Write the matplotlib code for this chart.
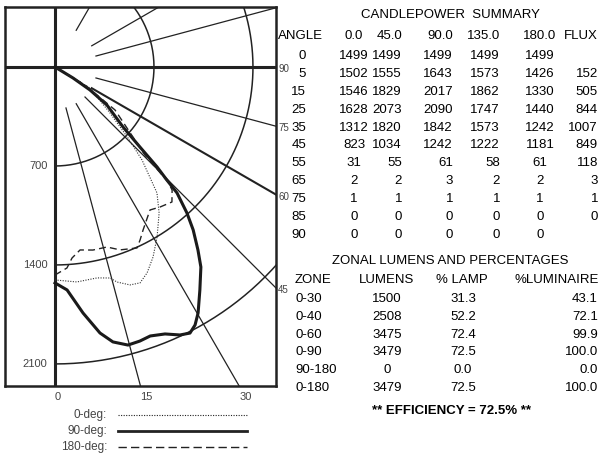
import numpy as np
import matplotlib
matplotlib.use('Agg')
import matplotlib.pyplot as plt

plt.rcParams['font.family'] = ['Liberation Sans', 'DejaVu Sans']

# candlepower summary table
cp_angles = [0, 5, 15, 25, 35, 45, 55, 65, 75, 85, 90]
cp_planes = ['0.0', '45.0', '90.0', '135.0', '180.0']
cp_0 = [1499, 1502, 1546, 1628, 1312, 823, 31, 2, 1, 0, 0]
cp_45 = [1499, 1555, 1829, 2073, 1820, 1034, 55, 2, 1, 0, 0]
cp_90 = [1499, 1643, 2017, 2090, 1842, 1242, 61, 3, 1, 0, 0]
cp_135 = [1499, 1573, 1862, 1747, 1573, 1222, 58, 2, 1, 0, 0]
cp_180 = [1499, 1426, 1330, 1440, 1242, 1181, 61, 2, 1, 0, 0]
flux = [None, 152, 505, 844, 1007, 849, 118, 3, 1, 0, None]

# zonal lumens table
zones = ['0-30', '0-40', '0-60', '0-90', '90-180', '0-180']
zone_lumens = [1500, 2508, 3475, 3479, 0, 3479]
zone_lamp = [31.3, 52.2, 72.4, 72.5, 0.0, 72.5]
zone_lum = [43.1, 72.1, 99.9, 100.0, 0.0, 100.0]
efficiency = 72.5

# curves (degrees from nadir, candela)
ang_0deg = [0, 5.8, 11.3, 14.6, 16.1, 19.0, 21.5, 24.1, 27.3, 31.0, 35.5, 39.0,
            43.1, 45.8, 50.1, 59.0, 59.5, 62]
cd_0deg = [1506, 1528, 1521, 1542, 1583, 1630, 1641, 1595, 1512, 1402, 1268, 1146,
           901, 720, 507, 289, 139, 0]
ang_90deg = [0, 3.1, 6.5, 9.6, 11.9, 14.7, 17.2, 19.5, 22.4, 25.0, 26.9, 28.5, 30.2,
             33.0, 36.1, 38.0, 40.3, 42.1, 44.1, 44.7, 45.6, 46.7, 48.6, 53.8, 56.7,
             58.6, 60]
cd_90deg = [1527, 1579, 1751, 1908, 1987, 2033, 2029, 2018, 2042, 2091, 2110, 2076, 2012,
            1881, 1751, 1642, 1511, 1392, 1240, 1125, 1010, 826, 641, 455, 296,
            149, 0]
ang_180deg = [0, 3.4, 5.1, 7.8, 11.7, 16.1, 19.6, 24.4, 26.2, 28.4, 33.6, 36.9, 40.9,
              43.6, 44.5, 45.6, 54.4, 59, 62]
cd_180deg = [1471, 1424, 1356, 1306, 1322, 1325, 1373, 1405, 1363, 1310, 1214, 1238, 1263,
             1201, 1140, 890, 522, 247, 0]

rings = [700, 1400, 2100]
spokes = [15, 30, 45, 60, 75, 105, 120, 150]
bottom_lbls = [0, 15, 30]
side_lbls = [90, 75, 60, 45]

W, H = 602, 453
s = 0.1414              # pixels per candela
ox, oy = 55, 67         # origin of the polar grid, pixels
bl, br, bt, bb = 5, 276, 7, 386

fig = plt.figure(figsize=(W / 100, H / 100), dpi=100)
ax = fig.add_axes([bl / W, 1 - bb / H, (br - bl) / W, (bb - bt) / H])
xr = (br - ox) / s
yb = (bb - oy) / s
ax.set_xlim((bl - ox) / s, xr)
ax.set_ylim(-yb, (oy - bt) / s)
ax.set_xticks([])
ax.set_yticks([])
for sp in ax.spines.values():
    sp.set_linewidth(1.8)
    sp.set_color('#222222')


def polar(ang, cd):
    t = np.radians(ang)
    cd = np.asarray(cd, dtype=float)
    return cd * np.sin(t), -cd * np.cos(t)


t = np.linspace(0, 180, 300)
for r in rings:
    ax.plot(*polar(t, np.full_like(t, r)), color='#222222', lw=1.1)
for a in spokes:
    ax.plot(*polar([a, a], [300, 4000]), color='#222222', lw=1.5 if a == 60 else 0.9)
ax.axvline(0, color='#222222', lw=2.2)
ax.axhline(0, color='#222222', lw=2.2)

ax.plot(*polar(ang_0deg, cd_0deg), color='#333333', lw=0.8, ls=(0, (1, 1.3)))
ax.plot(*polar(ang_90deg, cd_90deg), color='#1a1a1a', lw=2.2)
ax.plot(*polar(ang_180deg, cd_180deg), color='#222222', lw=1.0, ls=(0, (5, 3)))

lab = dict(textcoords='offset points', fontsize=8, color='#444444', annotation_clip=False)
for r in rings:
    ax.annotate(str(r), (0, -r), xytext=(-5.5, 0), ha='right', va='center', **lab)
for a in bottom_lbls:
    ax.annotate(str(a), (yb * np.tan(np.radians(a)), -yb), xytext=(0, -8),
                ha='left', va='center', **lab)
for a in side_lbls:
    yy = -xr / np.tan(np.radians(a)) if a != 90 else 0
    ax.annotate(str(a), (xr, yy), xytext=(1.5, -1.5), ha='left', va='center',
                textcoords='offset points', fontsize=7, color='#444444',
                annotation_clip=False)

# text overlay in pixel units
tx = fig.add_axes([0, 0, 1, 1])
tx.set_xlim(0, W)
tx.set_ylim(H, 0)
tx.axis('off')

fs = 9.5
tx.text(450, 15, 'CANDLEPOWER  SUMMARY', ha='center', va='center', fontsize=fs)
tx.text(278, 36, 'ANGLE', ha='left', va='center', fontsize=fs)
cols = [(354, 'center'), (402, 'right'), (453, 'right'), (500, 'right'), (540, 'center')]
for (cx, al), name in zip(cols, cp_planes):
    tx.text(cx, 36, name, ha=al, va='center', fontsize=fs)
tx.text(598, 36, 'FLUX', ha='right', va='center', fontsize=fs)
for i, a in enumerate(cp_angles):
    y = 56 + i * 17.9
    tx.text(306, y, str(a), ha='right', va='center', fontsize=fs)
    for (cx, al), vals in zip(cols, [cp_0, cp_45, cp_90, cp_135, cp_180]):
        tx.text(cx, y, str(vals[i]), ha=al, va='center', fontsize=fs)
    if flux[i] is not None:
        tx.text(598, y, str(flux[i]), ha='right', va='center', fontsize=fs)

tx.text(450, 261, 'ZONAL LUMENS AND PERCENTAGES', ha='center', va='center', fontsize=fs)
tx.text(295, 280, 'ZONE', ha='left', va='center', fontsize=fs)
tx.text(387, 280, 'LUMENS', ha='center', va='center', fontsize=fs)
tx.text(462, 280, '% LAMP', ha='center', va='center', fontsize=fs)
tx.text(599, 280, '%LUMINAIRE', ha='right', va='center', fontsize=fs)
for i, z in enumerate(zones):
    y = 299 + i * 17.8
    tx.text(295, y, z, ha='left', va='center', fontsize=fs)
    tx.text(387, y, str(zone_lumens[i]), ha='center', va='center', fontsize=fs)
    tx.text(463, y, f'{zone_lamp[i]:.1f}', ha='center', va='center', fontsize=fs)
    tx.text(598, y, f'{zone_lum[i]:.1f}', ha='right', va='center', fontsize=fs)
tx.text(452, 411, f'** EFFICIENCY = {efficiency}% **', ha='center', va='center',
        fontsize=fs, fontweight='bold')

# legend
leg = [('0-deg:', dict(lw=0.8, ls=(0, (1, 1.3)))),
       ('90-deg:', dict(lw=2.0, ls='-')),
       ('180-deg:', dict(lw=1.0, ls=(0, (6, 3))))]
for i, (name, st) in enumerate(leg):
    y = 415 + i * 16
    tx.text(107, y, name, ha='right', va='center', fontsize=8.5, color='#444444')
    tx.plot([118, 247], [y, y], color='#222222', **st)

fig.savefig('out.png', dpi=100)
